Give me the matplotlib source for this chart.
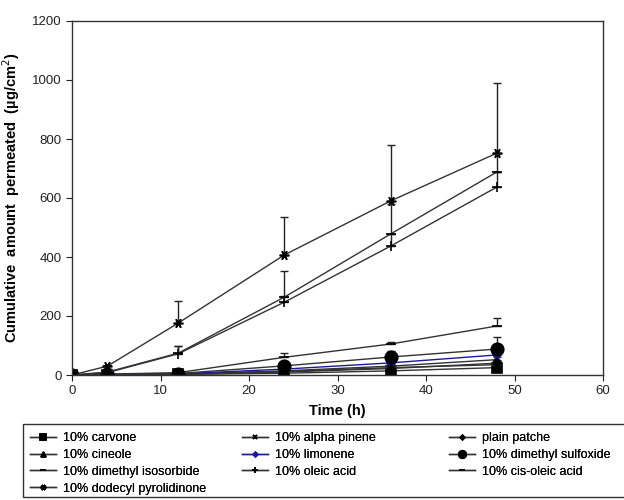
import numpy as np
import matplotlib.pyplot as plt
from matplotlib.patches import Rectangle

plt.rcParams['font.family'] = ['Liberation Sans', 'DejaVu Sans']

time_h = [0, 4, 12, 24, 36, 48]

carvone = [0, 0, 2, 6, 14, 25]
carvone_err = [0, 0, 1, 2, 5, 8]
cineole = [0, 1, 3, 14, 30, 52]
cineole_err = [0, 0, 1, 3, 5, 8]
dimethyl_isosorbide = [0, 3, 8, 60, 105, 166]
dimethyl_isosorbide_err = [0, 1, 3, 15, 8, 27]
dodecyl_pyrolidinone = [0, 30, 176, 407, 590, 752]
dodecyl_pyrolidinone_err = [0, 5, 74, 129, 190, 238]
alpha_pinene = [0, 1, 3, 12, 25, 35]
alpha_pinene_err = [0, 0, 1, 2, 4, 6]
limonene = [0, 1, 4, 20, 41, 68]
limonene_err = [0, 0, 1, 3, 6, 10]
oleic_acid = [0, 8, 72, 247, 437, 637]
oleic_acid_err = [0, 2, 28, 20, 40, 50]
plain_patche = [0, 1, 2, 10, 22, 40]
plain_patche_err = [0, 0, 1, 2, 4, 6]
dmso = [0, 2, 5, 31, 61, 88]
dmso_err = [0, 1, 2, 6, 20, 41]
cis_oleic_acid = [0, 10, 74, 264, 478, 688]
cis_oleic_acid_err = [0, 3, 26, 88, 100, 60]

fig = plt.figure(figsize=(6.24, 5), dpi=100)
ax = fig.add_axes([72/624, 1-375/500, (603-72)/624, (375-21)/500])

asterisk = (6, 2, 90)

# label, values, errors, marker, size, marker colour
series = [
    ("10% carvone", carvone, carvone_err, 's', 6.5, 'black'),
    ("10% cineole", cineole, cineole_err, '^', 6, 'black'),
    ("10% dimethyl isosorbide", dimethyl_isosorbide, dimethyl_isosorbide_err, '_', 7, 'black'),
    ("10% dodecyl pyrolidinone", dodecyl_pyrolidinone, dodecyl_pyrolidinone_err, asterisk, 7, 'black'),
    ("10% alpha pinene", alpha_pinene, alpha_pinene_err, 'x', 6, 'black'),
    ("10% limonene", limonene, limonene_err, 'D', 4, '#1a1aa0'),
    ("10% oleic acid", oleic_acid, oleic_acid_err, '+', 7, 'black'),
    ("plain patche", plain_patche, plain_patche_err, 'D', 4, 'black'),
    ("10% dimethyl sulfoxide", dmso, dmso_err, 'o', 9, 'black'),
    ("10% cis-oleic acid", cis_oleic_acid, cis_oleic_acid_err, '_', 7, 'black'),
]

handles = []
for label, y, err, mk, ms, mcol in series:
    y = np.array(y)
    err = np.array(err)
    lcol = mcol if mcol != 'black' else '#333333'
    ax.errorbar(time_h, y, yerr=[np.zeros_like(err), err], fmt='none',
                ecolor='#222222', elinewidth=1, capsize=3, capthick=1)
    h, = ax.plot(time_h, y, color=lcol, lw=1, marker=mk, markersize=ms,
                 markerfacecolor=mcol, markeredgecolor=mcol, markeredgewidth=1.2,
                 label=label)
    handles.append(h)

ax.set_xlim(0, 60)
ax.set_ylim(0, 1200)
ax.set_xticks(range(0, 61, 10))
ax.set_yticks(range(0, 1201, 200))
ax.tick_params(direction='out', labelsize=9.5, length=4, colors='#222222')
for s in ax.spines.values():
    s.set_linewidth(1)
    s.set_color('#333333')

ax.set_xlabel("Time (h)", fontsize=10.5, fontweight='bold', labelpad=5)
ax.set_ylabel("Cumulative  amount  permeated  (\u00b5g/cm$^2$)", fontsize=10.5,
              fontweight='bold', labelpad=7)

# legend frame running off the right edge, three equal-width columns
fig.add_artist(Rectangle((23/624, 1-497/500), 640/624, 73/500,
                         transform=fig.transFigure, fill=False,
                         edgecolor='#333333', linewidth=1))
col_x = [30, 242, 449]
for i, idx in enumerate([[0, 1, 2, 3], [4, 5, 6], [7, 8, 9]]):
    leg = fig.legend(handles=[handles[j] for j in idx], loc='upper left',
                     bbox_to_anchor=(col_x[i]/624, 1-432/500), fontsize=9,
                     frameon=False, handlelength=2.1, handletextpad=0.55,
                     labelspacing=0.39, borderpad=0, borderaxespad=0,
                     markerscale=0.6)
    fig.add_artist(leg)

fig.savefig("out.png", dpi=100)
